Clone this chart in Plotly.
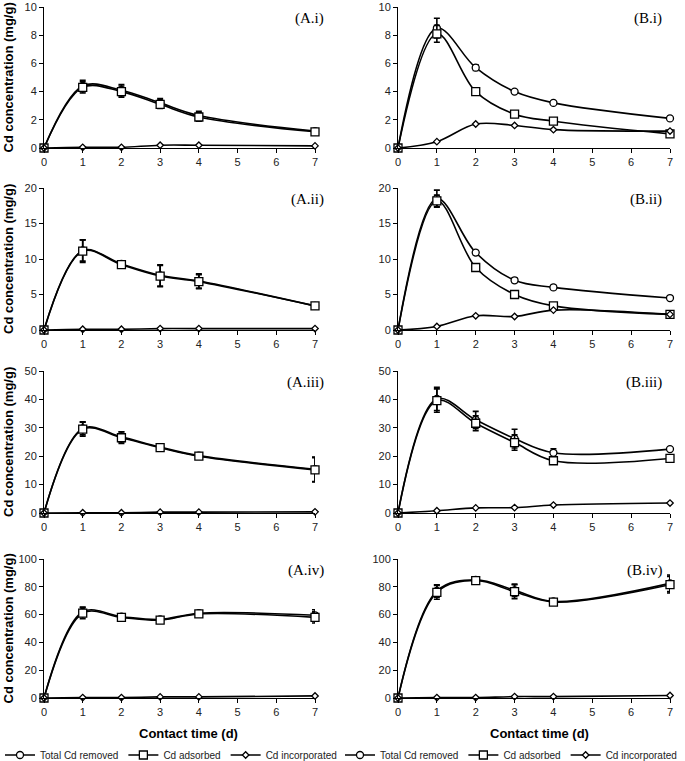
import plotly.graph_objects as go

days = [0, 1, 2, 3, 4, 7]
x_tick_vals = [0, 1, 2, 3, 4, 5, 6, 7]

# (A.i)
Ai_total = [0, 4.4, 4.1, 3.2, 2.3, 1.2]
Ai_total_err = [0, 0.4, 0.4, 0.3, 0.3, 0.15]
Ai_ads = [0, 4.3, 4.0, 3.1, 2.2, 1.15]
Ai_ads_err = [0, 0.4, 0.4, 0.3, 0.3, 0.15]
Ai_inc = [0, 0.05, 0.05, 0.2, 0.2, 0.15]
# (B.i)
Bi_total = [0, 8.5, 5.7, 4.0, 3.2, 2.1]
Bi_total_err = [0, 0.7, 0.2, 0.1, 0.1, 0.15]
Bi_ads = [0, 8.1, 4.0, 2.4, 1.9, 1.0]
Bi_ads_err = [0, 0.6, 0.1, 0.1, 0.1, 0.1]
Bi_inc = [0, 0.45, 1.7, 1.6, 1.3, 1.2]
# (A.ii)
Aii_total = [0, 11.2, 9.3, 7.7, 6.9, 3.4]
Aii_total_err = [0, 1.5, 0.4, 1.5, 1.0, 0.3]
Aii_ads = [0, 11.1, 9.2, 7.6, 6.8, 3.4]
Aii_ads_err = [0, 1.6, 0.4, 1.5, 1.0, 0.3]
Aii_inc = [0, 0.1, 0.1, 0.2, 0.2, 0.2]
# (B.ii)
Bii_total = [0, 18.5, 10.9, 7.0, 6.0, 4.5]
Bii_total_err = [0, 1.2, 0.3, 0.3, 0.3, 0.2]
Bii_ads = [0, 18.2, 8.8, 5.0, 3.4, 2.2]
Bii_ads_err = [0, 0.8, 0.3, 0.2, 0.2, 0.1]
Bii_inc = [0, 0.5, 2.0, 1.9, 2.8, 2.2]
# (A.iii)
Aiii_total = [0, 29.8, 26.8, 23.2, 20.2, 15.4]
Aiii_total_err = [0, 2.3, 1.8, 0.8, 0.8, 4.3]
Aiii_ads = [0, 29.5, 26.5, 23.0, 20.0, 15.2]
Aiii_ads_err = [0, 2.5, 2.0, 0.8, 0.8, 4.3]
Aiii_inc = [0, 0.1, 0.1, 0.3, 0.3, 0.4]
# (B.iii)
Biii_total = [0, 40.2, 32.8, 26.2, 21.2, 22.5]
Biii_total_err = [0, 4.1, 3.0, 3.3, 1.4, 0.5]
Biii_ads = [0, 39.6, 31.6, 24.8, 18.4, 19.2]
Biii_ads_err = [0, 4.1, 2.6, 2.7, 0.8, 0.4]
Biii_inc = [0, 0.8, 1.8, 1.9, 2.8, 3.5]
# (A.iv)
Aiv_total = [0, 62, 58.5, 56.5, 61, 59.5]
Aiv_total_err = [0, 3.5, 2.0, 1.0, 1.0, 4.0]
Aiv_ads = [0, 61, 58, 56, 60.5, 58]
Aiv_ads_err = [0, 4.0, 2.0, 1.0, 1.0, 4.0]
Aiv_inc = [0, 0.3, 0.3, 0.8, 0.8, 1.5]
# (B.iv)
Biv_total = [0, 77, 85, 77.5, 69.5, 82.5]
Biv_total_err = [0, 4.5, 1.5, 4.5, 1.5, 6.0]
Biv_ads = [0, 76, 84.5, 76.5, 69, 81.5]
Biv_ads_err = [0, 5.0, 1.5, 5.0, 1.5, 6.0]
Biv_inc = [0, 0.3, 0.3, 1.0, 1.0, 1.8]

panel_labels = ["(A.i)", "(B.i)", "(A.ii)", "(B.ii)", "(A.iii)", "(B.iii)", "(A.iv)", "(B.iv)"]
y_max = [10, 10, 20, 20, 50, 50, 100, 100]
y_dtick = [2, 2, 5, 5, 10, 10, 20, 20]
series_names = ["Total Cd removed", "Cd adsorbed", "Cd incorporated"]
y_title = "Cd concentration (mg/g)"
x_title = "Contact time (d)"

panels = [
    (Ai_total, Ai_total_err, Ai_ads, Ai_ads_err, Ai_inc),
    (Bi_total, Bi_total_err, Bi_ads, Bi_ads_err, Bi_inc),
    (Aii_total, Aii_total_err, Aii_ads, Aii_ads_err, Aii_inc),
    (Bii_total, Bii_total_err, Bii_ads, Bii_ads_err, Bii_inc),
    (Aiii_total, Aiii_total_err, Aiii_ads, Aiii_ads_err, Aiii_inc),
    (Biii_total, Biii_total_err, Biii_ads, Biii_ads_err, Biii_inc),
    (Aiv_total, Aiv_total_err, Aiv_ads, Aiv_ads_err, Aiv_inc),
    (Biv_total, Biv_total_err, Biv_ads, Biv_ads_err, Biv_inc),
]

W, H = 685, 761
col_px = [(44, 315), (398, 670)]
label_right_px = [326, 664]
xtitle_center_px = [188, 539]
row_px = [(7, 148), (188, 330), (371, 513), (559, 698)]

def fx(px):
    return px / W

def fy(px):
    return 1 - px / H

fig = go.Figure()
FONT = "Liberation Sans, Arial, sans-serif"
BLACK = "#000000"

symbols = ["circle", "square", "diamond"]
sizes = [7, 8, 5]

for k, (tot, tot_e, ads, ads_e, inc) in enumerate(panels):
    idx = k + 1
    r, c = divmod(k, 2)
    xa = "x" if idx == 1 else f"x{idx}"
    ya = "y" if idx == 1 else f"y{idx}"
    legend_id = "legend" if c == 0 else "legend2"
    show = r == 3
    ys = [tot, ads, inc]
    errs = [tot_e, ads_e, None]
    for s in range(3):
        tr = dict(
            x=days, y=ys[s], xaxis=xa, yaxis=ya, mode="lines+markers",
            name=series_names[s], legend=legend_id, showlegend=show,
            line=dict(color=BLACK, width=1.6, shape="spline", smoothing=1.0),
            marker=dict(symbol=symbols[s], size=sizes[s], color="white",
                        line=dict(color=BLACK, width=1.3)),
            cliponaxis=False,
        )
        if errs[s] is not None:
            tr["error_y"] = dict(type="data", array=errs[s], visible=True,
                                 color=BLACK, thickness=1.6, width=3)
        fig.add_trace(go.Scatter(**tr))

    xd = [fx(col_px[c][0]), fx(col_px[c][1])]
    yd = [fy(row_px[r][1]), fy(row_px[r][0])]
    xkey = "xaxis" if idx == 1 else f"xaxis{idx}"
    ykey = "yaxis" if idx == 1 else f"yaxis{idx}"
    fig.update_layout(**{
        xkey: dict(domain=xd, anchor=ya, range=[0, 7], tickvals=x_tick_vals,
                   showline=True, linecolor=BLACK, linewidth=1, ticks="outside",
                   ticklen=4, tickcolor=BLACK, showgrid=False, zeroline=False,
                   automargin=False, ticklabeloverflow="allow",
                   tickfont=dict(size=11, color="#222", family=FONT)),
        ykey: dict(domain=yd, anchor=xa, range=[0, y_max[k]], dtick=y_dtick[k],
                   showline=True, linecolor=BLACK, linewidth=1, ticks="outside",
                   ticklen=4, tickcolor=BLACK, showgrid=False, zeroline=False,
                   automargin=False, ticklabeloverflow="allow",
                   tickfont=dict(size=11, color="#222", family=FONT)),
    })
    fig.add_annotation(x=fx(label_right_px[c]), y=fy(row_px[r][0] + 1), xref="paper", yref="paper",
                       text=panel_labels[k], showarrow=False, xanchor="right", yanchor="top",
                       font=dict(family="Liberation Serif, Times New Roman, serif", size=15, color=BLACK))
    if c == 0:
        fig.add_annotation(x=fx(8), y=fy((row_px[r][0] + row_px[r][1]) / 2), xref="paper", yref="paper",
                           text=f"<b>{y_title}</b>", showarrow=False, textangle=-90,
                           xanchor="center", yanchor="middle",
                           font=dict(family=FONT, size=13, color=BLACK))
    if r == 3:
        fig.add_annotation(x=fx(xtitle_center_px[c]), y=fy(733), xref="paper", yref="paper",
                           text=f"<b>{x_title}</b>", showarrow=False,
                           xanchor="center", yanchor="middle",
                           font=dict(family=FONT, size=13, color=BLACK))

legend_common = dict(orientation="h", yanchor="middle", y=fy(755), xanchor="left",
                     font=dict(size=10, color="#222", family=FONT), bgcolor="rgba(0,0,0,0)",
                     itemwidth=30, tracegroupgap=0)
fig.update_layout(
    width=W, height=H, margin=dict(l=0, r=0, t=0, b=0, autoexpand=False),
    paper_bgcolor="white", plot_bgcolor="white",
    showlegend=True,
    legend=dict(x=0, **legend_common),
    legend2=dict(x=fx(340), **legend_common),
)

fig.write_html("out.html", config={"displayModeBar": False},
               post_script="document.body.style.margin='0px';document.body.style.overflow='hidden';")
